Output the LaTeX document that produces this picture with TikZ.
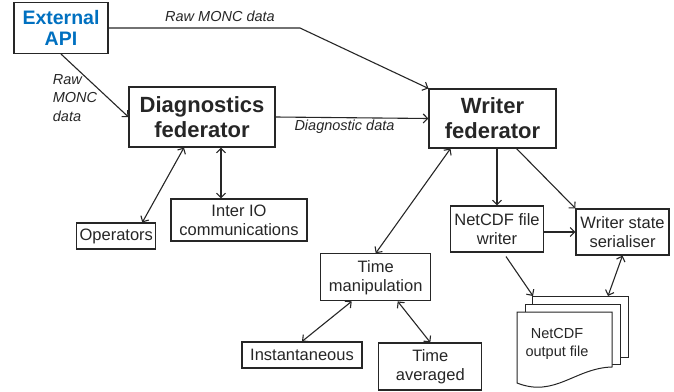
\documentclass[tikz,border=0pt]{standalone}
\usepackage{fontspec}
\setmainfont{Liberation Sans}
\usetikzlibrary{arrows.meta}
\definecolor{ink}{HTML}{262626}
\definecolor{apiblue}{HTML}{0070C0}

\begin{document}
\begin{tikzpicture}[x=1pt,y=-1pt,color=ink,line width=1.1pt,
  >={Straight Barb[length=4.5pt,width=9pt]},
  box/.style={draw,rectangle,inner sep=1pt,align=center,font=\fontsize{16.5}{19}\selectfont},
  big/.style={box,font=\fontsize{22}{25}\selectfont\bfseries},
  lbl/.style={font=\fontsize{14.5}{18.5}\selectfont\itshape}]
\useasboundingbox (0,0) rectangle (674,391);
\node[box,minimum width=94pt,minimum height=51pt,text=apiblue,font=\fontsize{19.5}{21}\selectfont\bfseries] (api) at (61,28) {External\\API};
\node[big,minimum width=146pt,minimum height=60pt] (diag) at (202,117) {Diagnostics\\federator};
\node[big,minimum width=127pt,minimum height=59pt] (writer) at (492.5,118.5) {Writer\\federator};
\node[box,minimum width=79pt,minimum height=26pt] (ops) at (116.3,236) {Operators};
\node[box,minimum width=136pt,minimum height=42pt] (inter) at (239,220) {Inter IO\\communications};
\node[box,minimum width=110pt,minimum height=47pt] (tm) at (375.7,277.3) {Time\\manipulation};
\node[box,minimum width=120pt,minimum height=26pt] (inst) at (302,355) {Instantaneous};
\node[box,minimum width=103pt,minimum height=47pt] (tavg) at (430.3,366.5) {Time\\averaged};
\node[box,minimum width=93pt,minimum height=46pt] (ncw) at (497,229) {NetCDF file\\writer};
\node[box,minimum width=93pt,minimum height=46pt] (wss) at (622.5,232) {Writer state\\serialiser};
\filldraw[fill=white,line width=1pt] (532,296) rectangle (628,357);
\filldraw[fill=white,line width=1pt] (525,304) rectangle (620,364);
\filldraw[fill=white,line width=1pt] (517,312) -- (612,312) -- (612,367) .. controls (575,368) and (555,398) .. (517,383) -- cycle;
\node[font=\fontsize{14.5}{18}\selectfont,align=center] (out) at (557,344) {NetCDF\\output file};
\coordinate (outtl) at (533,296);
\coordinate (outtr) at (608,296);
\coordinate (bend) at (300,28);
\draw[->] (api.east) -- (bend) -- (writer.north west);
\node[lbl] (rawtop) at (220,16) {Raw MONC data};
\draw[->] (api.south) -- (diag.west);
\node[lbl,align=left,anchor=west] (rawleft) at (49,98) {Raw\\MONC\\data};
\draw[->] (diag.east) -- (writer.west);
\node[lbl] (diagdata) at (344.5,127) {Diagnostic data};
\draw[<->] ([xshift=26pt]ops.north) -- ([xshift=-18pt]diag.south);
\draw[<->] ([xshift=19pt]diag.south) -- ([xshift=-18pt]inter.north);
\draw[<->] (tm.north) -- ([xshift=-42pt]writer.south);
\draw[->] (ncw.north |- writer.south) -- (ncw.north);
\draw[->] ([xshift=24pt]writer.south) -- (wss.north west);
\draw[->] (ncw.east |- wss.west) -- (wss.west);
\draw[->] ([xshift=9pt,yshift=-4pt]ncw.south) -- (outtl);
\draw[<->] (wss.south) -- (outtr);
\draw[<->] ([xshift=-24pt]tm.south) -- (inst.north);
\draw[<->] ([xshift=22pt]tm.south) -- (tavg.north);
\end{tikzpicture}
\end{document}
